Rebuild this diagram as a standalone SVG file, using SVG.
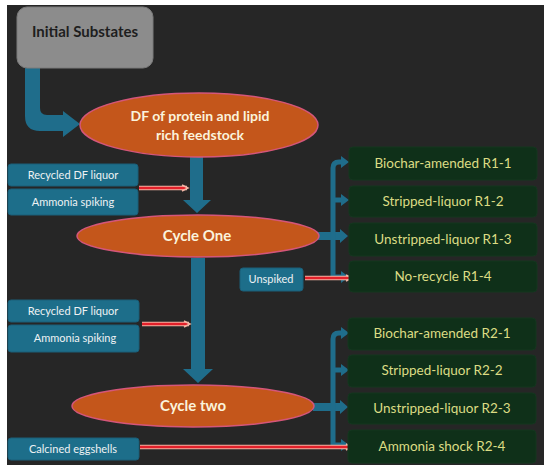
<svg xmlns="http://www.w3.org/2000/svg" width="550" height="472" viewBox="0 0 550 472">
<defs>
<style>
.panel{fill:#262626}
.ell{fill:#c4561b;stroke:#d4567a;stroke-width:1.5}
.ellt{font-family:"Lato","Liberation Sans",sans-serif;font-weight:bold;fill:#fbf3dc;text-anchor:middle}
.inbox{fill:#1d6e8a;stroke:#1a5e78;stroke-width:1}
.intext{font-family:"Lato","Liberation Sans",sans-serif;font-size:11px;fill:#eef2f4;text-anchor:middle}
.gbox{fill:#0f3019;stroke:#14361f;stroke-width:1}
.gtext{font-family:"Lato","Liberation Sans",sans-serif;font-size:13.5px;fill:#dcdc84;text-anchor:middle}
.teal{fill:#1f6d8b}
.branch{fill:none;stroke:#1f6d8b;stroke-width:5}
.redo{stroke:#f0b4a4;stroke-width:4.5;fill:none}
.redi{stroke:#e3202a;stroke-width:2.6;fill:none}
.rhead{fill:none;stroke:#f0b4a4;stroke-width:1.5}
</style>
</defs>
<rect width="550" height="472" fill="#ffffff"/>
<rect class="panel" x="7" y="5" width="537" height="460"/>

<g id="connectors">
<!-- initial to DF bent arrow -->
<path class="teal" d="M25,68 L40,68 L40,108 Q40,115 47,115 L63,115 L63,111 L80,124 L63,137 L63,131 L40,131 Q25,131 25,116 Z"/>
<!-- DF to Cycle One -->
<path class="teal" d="M190,157 L203,157 L203,200 L211,200 L197,213 L183,200 L190,200 Z"/>
<!-- Cycle One to Cycle two -->
<path class="teal" d="M191,258 L205,258 L205,369 L213,369 L198,383 L183,369 L191,369 Z"/>
<!-- R1 branch -->
<path class="teal" d="M318,232 L340,232 L340,229 L348,236 L340,243 L340,240 L318,240 Z"/>
<path class="branch" d="M333,279 L333,168 Q333,162 339,162 L342,162"/>
<path class="branch" d="M333,200 L342,200"/>
<path class="branch" d="M333,277 L342,277"/>
<path class="teal" d="M341,156 L349,162 L341,168 Z M341,194 L349,200 L341,206 Z M341,271 L349,277 L341,283 Z"/>
<!-- R2 branch -->
<path class="teal" d="M313,403 L340,403 L340,400 L348,407 L340,414 L340,411 L313,411 Z"/>
<path class="branch" d="M333,447 L333,339 Q333,333 339,333 L342,333"/>
<path class="branch" d="M333,370 L342,370"/>
<path class="branch" d="M333,445 L342,445"/>
<path class="teal" d="M341,327 L349,333 L341,339 Z M341,364 L349,370 L341,376 Z M341,439 L349,445 L341,451 Z"/>
<!-- red arrows -->
<path class="redo" d="M139,188 L187,188"/><path class="redi" d="M139,188 L186,188"/><path class="rhead" d="M182,185 L188,188 L182,191"/>
<path class="redo" d="M305,278 L351,278"/><path class="redi" d="M305,278 L350,278"/><path class="rhead" d="M346,275 L352,278 L346,281"/>
<path class="redo" d="M142,324 L189,324"/><path class="redi" d="M142,324 L188,324"/><path class="rhead" d="M184,321 L190,324 L184,327"/>
<path class="redo" d="M140,447 L351,447"/><path class="redi" d="M140,447 L350,447"/><path class="rhead" d="M346,444 L352,447 L346,450"/>
</g>

<g id="initial">
<rect x="17" y="7" width="136" height="61" rx="10" fill="#8c8c8c" stroke="#7a7a7a"/>
<text x="85" y="37" font-family="Lato,'Liberation Sans',sans-serif" font-weight="bold" font-size="15" fill="#1e1e1e" text-anchor="middle">Initial Substates</text>
</g>

<g id="df">
<ellipse class="ell" cx="199" cy="125" rx="119" ry="32"/>
<text class="ellt" x="200" y="121" font-size="14">DF of protein and lipid</text>
<text class="ellt" x="200" y="140" font-size="14">rich feedstock</text>
</g>

<g id="cycle1">
<ellipse class="ell" cx="198" cy="236" rx="121" ry="21"/>
<text class="ellt" x="197" y="241" font-size="15">Cycle One</text>
</g>

<g id="cycle2">
<ellipse class="ell" cx="193" cy="406" rx="121" ry="21"/>
<text class="ellt" x="193" y="411" font-size="15">Cycle two</text>
</g>

<g id="in1a"><rect class="inbox" x="8" y="164" width="130" height="22" rx="3"/><text class="intext" x="73" y="179">Recycled DF liquor</text></g>
<g id="in1b"><rect class="inbox" x="8" y="189" width="130" height="26" rx="3"/><text class="intext" x="73" y="206">Ammonia spiking</text></g>
<g id="unspiked"><rect class="inbox" x="240" y="268" width="63" height="23" rx="3"/><text class="intext" x="271" y="283" font-size="10">Unspiked</text></g>
<g id="in2a"><rect class="inbox" x="8" y="300" width="131" height="22" rx="3"/><text class="intext" x="73" y="315">Recycled DF liquor</text></g>
<g id="in2b"><rect class="inbox" x="8" y="325" width="131" height="27" rx="3"/><text class="intext" x="75" y="342">Ammonia spiking</text></g>
<g id="eggshells"><rect class="inbox" x="8" y="438" width="131" height="22" rx="3"/><text class="intext" x="73" y="453">Calcined eggshells</text></g>

<g id="r1-1"><rect class="gbox" x="349" y="147" width="188" height="33" rx="4"/><text class="gtext" x="443" y="168">Biochar-amended R1-1</text></g>
<g id="r1-2"><rect class="gbox" x="349" y="186" width="188" height="31" rx="4"/><text class="gtext" x="443" y="206">Stripped-liquor R1-2</text></g>
<g id="r1-3"><rect class="gbox" x="349" y="223" width="188" height="33" rx="4"/><text class="gtext" x="443" y="244">Unstripped-liquor R1-3</text></g>
<g id="r1-4"><rect class="gbox" x="349" y="261" width="188" height="31" rx="4"/><text class="gtext" x="443" y="281">No-recycle R1-4</text></g>

<g id="r2-1"><rect class="gbox" x="348" y="318" width="188" height="32" rx="4"/><text class="gtext" x="442" y="338">Biochar-amended R2-1</text></g>
<g id="r2-2"><rect class="gbox" x="348" y="355" width="188" height="32" rx="4"/><text class="gtext" x="442" y="375">Stripped-liquor R2-2</text></g>
<g id="r2-3"><rect class="gbox" x="348" y="393" width="188" height="31" rx="4"/><text class="gtext" x="442" y="413">Unstripped-liquor R2-3</text></g>
<g id="r2-4"><rect class="gbox" x="348" y="430" width="188" height="33" rx="4"/><text class="gtext" x="442" y="451">Ammonia shock R2-4</text></g>
</svg>
